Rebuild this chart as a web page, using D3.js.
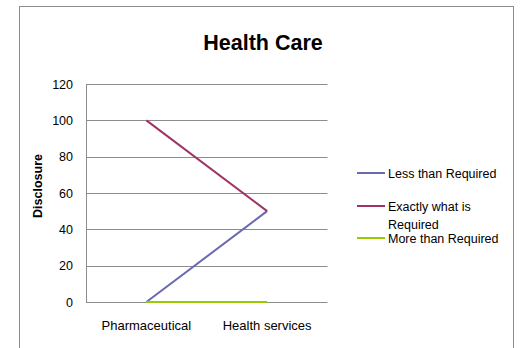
<!DOCTYPE html>
<html><head><meta charset="utf-8">
<script src="https://cdn.jsdelivr.net/npm/d3@7"></script>
<style>body{margin:0;background:#fff}svg{display:block}text{font-family:"Liberation Sans",Arial,sans-serif}</style>
</head><body><svg id="c" width="524" height="348"></svg>
<script>
const title = "Health Care";
const yTitle = "Disclosure";
const categories = ["Pharmaceutical", "Health services"];
const seriesNames = ["Less than Required", "Exactly what is Required", "More than Required"];
const lessThan = [0, 50];
const exactly = [100, 50];
const moreThan = [0, 0];
const yTicks = [0, 20, 40, 60, 80, 100, 120];
const colors = ["#6969ad", "#9e3466", "#99cc00"];

const svg = d3.select("#c");
svg.append("rect").attr("x", 19.5).attr("y", 6.5).attr("width", 494).attr("height", 360)
  .attr("fill", "#fff").attr("stroke", "#8c8c8c").attr("stroke-width", 1);

const L = 86, R = 327.5, T = 84, B = 302;
const x = d3.scaleBand().domain(categories).range([L, R]);
const y = d3.scaleLinear().domain([0, 120]).range([B, T]);

svg.append("text").attr("x", 263).attr("y", 50).attr("text-anchor", "middle")
  .attr("font-size", 21.5).attr("font-weight", "bold").text(title);

// gridlines
svg.append("g").selectAll("line").data(yTicks).join("line")
  .attr("x1", L).attr("x2", R).attr("y1", d => Math.round(y(d)) + 0.5).attr("y2", d => Math.round(y(d)) + 0.5)
  .attr("stroke", "#8c8c8c").attr("stroke-width", 1);
svg.append("line").attr("x1", L + 0.5).attr("x2", L + 0.5).attr("y1", y(120)).attr("y2", y(0))
  .attr("stroke", "#8c8c8c");

const yAxis = d3.axisLeft(y).tickValues(yTicks).tickSize(0).tickPadding(13);
const gy = svg.append("g").attr("transform", `translate(${L},0)`).call(yAxis);
gy.select(".domain").remove();
gy.selectAll("text").attr("font-size", 12.5).attr("fill", "#000").attr("font-family", "Liberation Sans, Arial, sans-serif");

const xAxis = d3.axisBottom(x).tickSize(0).tickPadding(19);
const gx = svg.append("g").attr("transform", `translate(0,${B})`).call(xAxis);
gx.select(".domain").remove();
gx.selectAll("text").attr("font-size", 13).attr("fill", "#000").attr("font-family", "Liberation Sans, Arial, sans-serif");

svg.append("text").attr("transform", "translate(42,186) rotate(-90)").attr("text-anchor", "middle")
  .attr("font-size", 12.5).attr("font-weight", "bold").text(yTitle);

const data = [lessThan, exactly, moreThan];
const line = d3.line().x((d, i) => x(categories[i]) + x.bandwidth() / 2).y(d => y(d));
[0, 1, 2].forEach(s => {
  svg.append("path").attr("d", line(data[s])).attr("fill", "none")
    .attr("stroke", colors[s]).attr("stroke-width", 2);
});

// legend
const leg = [
  {name: seriesNames[0], y: 173, lines: ["Less than Required"]},
  {name: seriesNames[1], y: 206, lines: ["Exactly what is", "Required"]},
  {name: seriesNames[2], y: 238, lines: ["More than Required"]}
];
leg.forEach((d, i) => {
  svg.append("line").attr("x1", 357).attr("x2", 385).attr("y1", d.y).attr("y2", d.y)
    .attr("stroke", colors[i]).attr("stroke-width", 2);
  d.lines.forEach((t, j) => {
    svg.append("text").attr("x", 388).attr("y", d.y + 4.5 + j * 18).attr("font-size", 12.5).text(t);
  });
});
</script></body></html>
